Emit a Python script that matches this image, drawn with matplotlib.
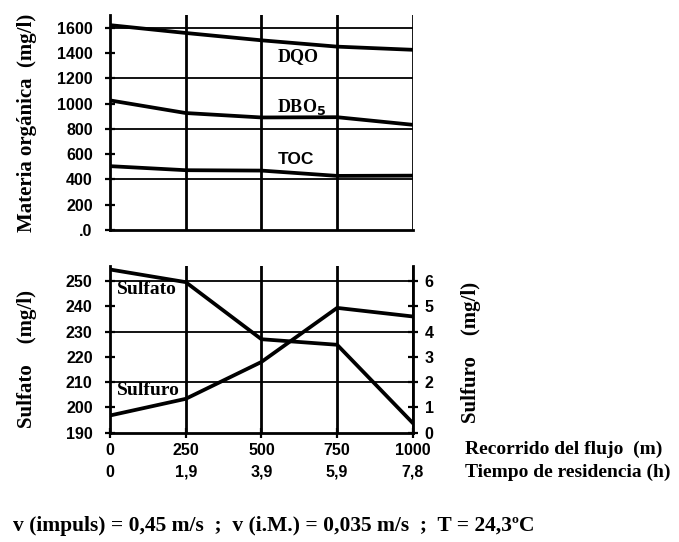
import numpy as np
import matplotlib
matplotlib.use("Agg")
import matplotlib.pyplot as plt

# recorrido del flujo (m) y tiempo de residencia (h)
recorrido = [0, 250, 500, 750, 1000]
tiempo = ['0', '1,9', '3,9', '5,9', '7,8']

# materia organica (mg/l)
dqo = [1620, 1558, 1500, 1450, 1425]
dbo5 = [1025, 925, 890, 892, 832]
toc = [505, 473, 470, 428, 430]

# sulfato (mg/l) y sulfuro (mg/l)
sulfato = [254.6, 249.6, 227.0, 224.8, 193.8]
sulfuro = [0.68, 1.34, 2.8, 4.94, 4.6]

serif = 'Liberation Serif'
sans = 'Liberation Sans'
tick_fs = 11.5

fig = plt.figure(figsize=(6.79, 5.42), dpi=100)


def bold_ticks(ax, which):
    labels = []
    if 'x' in which:
        labels += ax.get_xticklabels()
    if 'y' in which:
        labels += ax.get_yticklabels()
    for lb in labels:
        lb.set_fontweight('bold')
        lb.set_family(sans)


# ---- top panel ----
ax1 = fig.add_axes([0.162, 0.5756, 0.446, 0.3967])
ax1.set_xlim(0, 1000)
ax1.set_ylim(0, 1700)
for s in ['top', 'right']:
    ax1.spines[s].set_visible(False)
ax1.spines['left'].set_linewidth(2)
ax1.spines['bottom'].set_linewidth(2)
for x in recorrido[1:]:
    ax1.axvline(x, color='black', lw=2, zorder=1)
for y in [400, 800, 1200, 1600]:
    ax1.axhline(y, color='black', lw=1.3, zorder=1)

for serie in [dqo, dbo5, toc]:
    ax1.plot(recorrido, serie, color='black', lw=2.7, zorder=3)

ax1.text(620, 1370, 'DQO', ha='center', va='center', fontsize=13,
         fontweight='bold', family=serif)
ax1.text(634, 973, 'DBO$_{\\mathbf{5}}$', ha='center', va='center',
         fontsize=13, fontweight='bold', family=serif)
ax1.text(614, 560, 'TOC', ha='center', va='center', fontsize=12.5,
         fontweight='bold', family=sans)

ax1.set_yticks(range(0, 1601, 200))
ax1.set_yticklabels(['.0'] + [str(v) for v in range(200, 1601, 200)])
ax1.set_xticks([])
ax1.tick_params(axis='y', direction='inout', length=7, width=1.6,
                labelsize=tick_fs, pad=9)
bold_ticks(ax1, 'y')
ax1.set_ylabel('Materia orgánica  (mg/l)', fontsize=15, fontweight='bold',
               family=serif)
ax1.yaxis.set_label_coords(-0.24, 0.5)

# ---- bottom panel ----
ax2 = fig.add_axes([0.162, 0.2017, 0.446, 0.3076])
ax2.set_xlim(0, 1000)
ax2.set_ylim(190, 256)
for s in ['top', 'right']:
    ax2.spines[s].set_visible(False)
ax2.spines['left'].set_linewidth(2)
ax2.spines['bottom'].set_linewidth(2)
for x in recorrido[1:]:
    ax2.axvline(x, color='black', lw=2, zorder=1)
for y in [210, 230, 250]:
    ax2.axhline(y, color='black', lw=1.3, zorder=1)

ax2.plot(recorrido, sulfato, color='black', lw=2.7, zorder=3)
ax2.text(22, 246.5, 'Sulfato', ha='left', va='center', fontsize=14,
         fontweight='bold', family=serif)
ax2.text(22, 206.5, 'Sulfuro', ha='left', va='center', fontsize=14,
         fontweight='bold', family=serif)

ax2.set_yticks(range(190, 251, 10))
ax2.set_xticks(recorrido)
ax2.set_xticklabels([f'{r}\n{t}' for r, t in zip(recorrido, tiempo)],
                    linespacing=1.55)
ax2.tick_params(axis='y', direction='inout', length=7, width=1.6,
                labelsize=tick_fs, pad=9)
ax2.tick_params(axis='x', direction='inout', length=7, width=1.6,
                labelsize=tick_fs, pad=4)
bold_ticks(ax2, 'xy')
ax2.set_ylabel('Sulfato    (mg/l)', fontsize=15, fontweight='bold',
               family=serif)
ax2.yaxis.set_label_coords(-0.24, 0.44)

ax3 = ax2.twinx()
ax3.set_ylim(0, 6.6)
for s in ['top', 'left', 'bottom']:
    ax3.spines[s].set_visible(False)
ax3.spines['right'].set_linewidth(2)
ax3.plot(recorrido, sulfuro, color='black', lw=2.7, zorder=3)
ax3.set_yticks(range(0, 7))
ax3.tick_params(axis='y', direction='inout', length=7, width=1.6,
                labelsize=tick_fs, pad=5)
bold_ticks(ax3, 'y')
ax3.set_ylabel('Sulfuro    (mg/l)', fontsize=15, fontweight='bold',
               family=serif)
ax3.yaxis.set_label_coords(1.16, 0.48)

fig.text(465 / 679, 1 - 449 / 542, 'Recorrido del flujo  (m)', ha='left',
         va='center', fontsize=14, fontweight='bold', family=serif)
fig.text(465 / 679, 1 - 472 / 542, 'Tiempo de residencia (h)', ha='left',
         va='center', fontsize=14, fontweight='bold', family=serif)
fig.text(13 / 679, 1 - 526 / 542,
         'v (impuls) = 0,45 m/s  ;  v (i.M.) = 0,035 m/s  ;  T = 24,3ºC',
         ha='left', va='center', fontsize=15.5, fontweight='bold',
         family=serif)

fig.savefig('out.png', dpi=100)
